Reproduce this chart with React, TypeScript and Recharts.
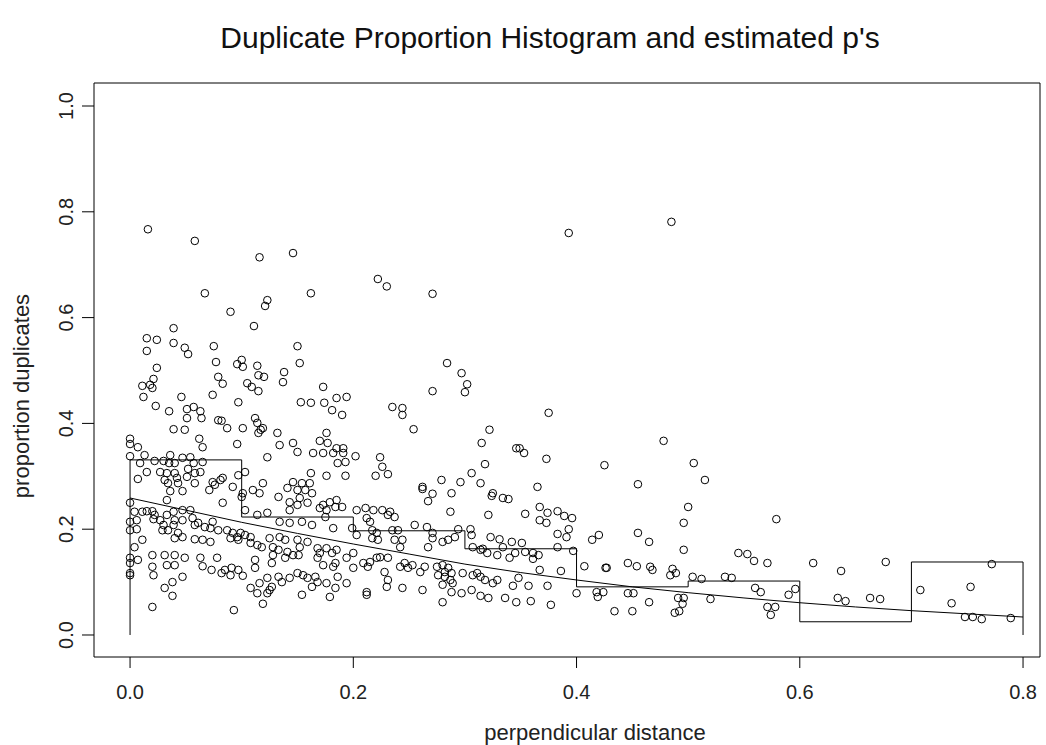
import { ScatterChart, Scatter, XAxis, YAxis, ReferenceArea } from 'recharts';

// histogram of duplicate proportion per 0.1 distance bin
const binEdges = [0, 0.1, 0.2, 0.3, 0.4, 0.5, 0.6, 0.7, 0.8];
const binProportion = [0.331, 0.223, 0.197, 0.163, 0.091, 0.102, 0.025, 0.138];

// estimated p curve, read every 0.05
const curveX = [0, 0.05, 0.1, 0.15, 0.2, 0.25, 0.3, 0.35, 0.4, 0.45, 0.5, 0.55, 0.6, 0.65, 0.7, 0.75, 0.8];
const curveP = [0.259, 0.236, 0.213, 0.192, 0.172, 0.153, 0.134, 0.118, 0.104, 0.091, 0.08, 0.07, 0.061, 0.053, 0.046, 0.04, 0.034];

const xTicks = [0, 0.2, 0.4, 0.6, 0.8];
const yTicks = [0, 0.2, 0.4, 0.6, 0.8, 1.0];

// observed proportions: [distance, proportion]
const pointsHigh: number[][] = [
  [0.016, 0.767], [0.058, 0.745], [0.116, 0.714], [0.146, 0.722], [0.393, 0.76], [0.485, 0.781],
  [0.222, 0.673], [0.23, 0.659], [0.271, 0.645], [0.067, 0.646], [0.039, 0.58], [0.015, 0.561],
  [0.024, 0.558], [0.015, 0.537], [0.039, 0.552], [0.049, 0.543], [0.052, 0.531], [0.075, 0.546],
  [0.077, 0.516], [0.024, 0.505], [0.021, 0.484], [0.011, 0.471], [0.018, 0.473], [0.02, 0.467],
  [0.079, 0.488], [0.083, 0.475], [0.012, 0.45], [0.046, 0.45], [0.074, 0.454], [0.023, 0.433],
  [0.035, 0.423], [0.051, 0.427], [0.057, 0.431], [0.063, 0.423], [0.051, 0.41], [0.064, 0.41],
  [0.079, 0.406], [0.082, 0.405], [0.039, 0.389], [0.049, 0.388], [0.0, 0.371], [0.0, 0.361],
  [0.007, 0.355], [0.062, 0.371], [0.065, 0.355],
  [0.162, 0.646], [0.123, 0.633], [0.121, 0.622], [0.09, 0.611], [0.111, 0.584], [0.15, 0.546],
  [0.152, 0.514], [0.1, 0.52], [0.096, 0.512], [0.101, 0.507], [0.114, 0.509], [0.115, 0.491],
  [0.12, 0.488], [0.138, 0.497], [0.137, 0.478], [0.105, 0.476], [0.109, 0.469], [0.115, 0.461],
  [0.097, 0.44], [0.173, 0.469], [0.153, 0.44], [0.162, 0.439], [0.174, 0.439], [0.185, 0.448],
  [0.194, 0.45], [0.181, 0.425], [0.19, 0.416], [0.087, 0.391], [0.101, 0.391], [0.112, 0.41],
  [0.114, 0.401], [0.119, 0.391], [0.115, 0.382], [0.117, 0.388], [0.132, 0.382], [0.176, 0.382],
  [0.17, 0.367], [0.177, 0.363], [0.096, 0.361], [0.134, 0.359], [0.146, 0.363], [0.185, 0.353],
  [0.191, 0.353],
  [0.284, 0.514], [0.297, 0.495], [0.302, 0.474], [0.3, 0.459], [0.271, 0.461], [0.235, 0.431],
  [0.244, 0.429], [0.244, 0.416], [0.254, 0.389], [0.315, 0.363], [0.224, 0.336],
  [0.375, 0.42], [0.322, 0.388], [0.346, 0.353], [0.349, 0.353], [0.353, 0.344], [0.373, 0.333],
  [0.318, 0.323], [0.425, 0.321], [0.478, 0.367], [0.505, 0.325],
];

const pointsNear: number[][] = [
  [0.0, 0.338], [0.013, 0.34], [0.009, 0.325], [0.022, 0.329], [0.03, 0.329], [0.036, 0.34],
  [0.035, 0.325], [0.04, 0.325], [0.047, 0.335], [0.054, 0.336], [0.057, 0.325], [0.065, 0.327],
  [0.015, 0.308], [0.027, 0.308], [0.033, 0.306], [0.04, 0.306], [0.052, 0.314], [0.058, 0.306],
  [0.063, 0.308], [0.007, 0.295], [0.031, 0.293], [0.034, 0.287], [0.042, 0.297], [0.043, 0.287],
  [0.051, 0.299], [0.058, 0.287], [0.074, 0.289], [0.081, 0.293], [0.083, 0.297], [0.036, 0.272],
  [0.047, 0.272], [0.071, 0.274], [0.076, 0.284], [0.033, 0.255], [0.0, 0.25], [0.083, 0.25],
  [0.004, 0.233], [0.011, 0.233], [0.015, 0.234], [0.02, 0.234], [0.022, 0.227], [0.006, 0.217],
  [0.0, 0.214], [0.0, 0.198], [0.006, 0.2], [0.021, 0.219], [0.027, 0.217], [0.03, 0.208],
  [0.033, 0.227], [0.039, 0.233], [0.04, 0.217], [0.039, 0.208], [0.047, 0.236], [0.047, 0.217],
  [0.054, 0.236], [0.056, 0.221], [0.058, 0.208], [0.061, 0.212], [0.067, 0.204], [0.072, 0.202],
  [0.074, 0.214], [0.079, 0.198], [0.029, 0.198], [0.034, 0.198], [0.043, 0.193], [0.04, 0.183],
  [0.047, 0.185], [0.058, 0.181], [0.065, 0.18], [0.072, 0.176], [0.011, 0.18], [0.004, 0.166],
  [0.0, 0.146], [0.0, 0.136], [0.007, 0.142], [0.02, 0.151], [0.02, 0.129], [0.021, 0.113],
  [0.031, 0.151], [0.033, 0.132], [0.04, 0.151], [0.04, 0.132], [0.047, 0.11], [0.049, 0.146],
  [0.063, 0.146], [0.065, 0.13], [0.073, 0.123], [0.078, 0.146], [0.082, 0.117], [0.0, 0.113],
  [0.0, 0.117], [0.038, 0.1], [0.031, 0.089], [0.038, 0.074], [0.02, 0.053],
];

const pointsMid: number[][] = [
  [0.15, 0.346], [0.173, 0.344], [0.182, 0.344], [0.191, 0.344], [0.186, 0.325], [0.193, 0.327],
  [0.123, 0.336], [0.164, 0.344], [0.162, 0.306], [0.176, 0.301], [0.193, 0.301], [0.097, 0.302],
  [0.103, 0.308], [0.092, 0.28], [0.101, 0.268], [0.1, 0.261], [0.11, 0.274], [0.119, 0.287],
  [0.116, 0.268], [0.133, 0.261], [0.141, 0.278], [0.146, 0.289], [0.15, 0.274], [0.154, 0.287],
  [0.157, 0.274], [0.161, 0.287], [0.163, 0.268], [0.152, 0.259], [0.143, 0.251], [0.15, 0.246],
  [0.159, 0.25], [0.143, 0.236], [0.103, 0.236], [0.114, 0.227], [0.123, 0.231], [0.173, 0.246],
  [0.179, 0.251], [0.185, 0.255], [0.184, 0.242], [0.19, 0.242], [0.176, 0.236], [0.17, 0.24],
  [0.134, 0.214], [0.143, 0.212], [0.154, 0.214], [0.163, 0.208], [0.182, 0.202], [0.175, 0.223],
  [0.087, 0.198], [0.092, 0.193], [0.096, 0.185], [0.099, 0.193], [0.103, 0.189], [0.108, 0.185],
  [0.09, 0.183], [0.097, 0.18], [0.108, 0.174], [0.114, 0.17], [0.118, 0.166], [0.125, 0.183],
  [0.128, 0.166], [0.134, 0.185], [0.139, 0.18], [0.133, 0.161], [0.141, 0.157], [0.15, 0.18],
  [0.152, 0.166], [0.146, 0.151], [0.159, 0.176], [0.151, 0.151], [0.168, 0.164], [0.17, 0.155],
  [0.176, 0.164], [0.181, 0.155], [0.185, 0.161], [0.184, 0.136], [0.168, 0.146], [0.173, 0.132],
  [0.194, 0.146], [0.182, 0.129], [0.112, 0.142], [0.112, 0.127], [0.128, 0.151], [0.127, 0.136],
  [0.139, 0.146], [0.085, 0.123], [0.09, 0.113], [0.097, 0.123], [0.101, 0.112], [0.091, 0.127],
  [0.116, 0.098], [0.123, 0.108], [0.127, 0.091], [0.133, 0.11], [0.136, 0.1], [0.143, 0.108],
  [0.15, 0.117], [0.155, 0.113], [0.159, 0.108], [0.166, 0.11], [0.163, 0.091], [0.168, 0.1],
  [0.176, 0.098], [0.186, 0.11], [0.194, 0.098], [0.108, 0.089], [0.114, 0.079], [0.123, 0.079],
  [0.125, 0.085], [0.154, 0.076], [0.179, 0.072], [0.184, 0.089], [0.119, 0.059], [0.093, 0.047],
];

const pointsOuter: number[][] = [
  [0.226, 0.318], [0.22, 0.301], [0.231, 0.304], [0.202, 0.338], [0.262, 0.28], [0.262, 0.276],
  [0.271, 0.267], [0.267, 0.253], [0.279, 0.293], [0.296, 0.289], [0.306, 0.306], [0.314, 0.287],
  [0.288, 0.268], [0.287, 0.233], [0.203, 0.236], [0.211, 0.24], [0.218, 0.236], [0.226, 0.236],
  [0.233, 0.233], [0.237, 0.223], [0.231, 0.227], [0.212, 0.221], [0.215, 0.214], [0.199, 0.202],
  [0.203, 0.189], [0.217, 0.198], [0.221, 0.193], [0.217, 0.183], [0.222, 0.18], [0.235, 0.198],
  [0.24, 0.198], [0.237, 0.18], [0.244, 0.18], [0.242, 0.166], [0.255, 0.208], [0.266, 0.204],
  [0.271, 0.193], [0.271, 0.183], [0.267, 0.166], [0.28, 0.176], [0.285, 0.18], [0.291, 0.185],
  [0.294, 0.2], [0.305, 0.2], [0.306, 0.189], [0.307, 0.166], [0.314, 0.161], [0.2, 0.155],
  [0.2, 0.127], [0.209, 0.136], [0.215, 0.138], [0.221, 0.146], [0.224, 0.147], [0.231, 0.146],
  [0.213, 0.129], [0.228, 0.119], [0.231, 0.104], [0.23, 0.091], [0.242, 0.129], [0.246, 0.136],
  [0.253, 0.132], [0.249, 0.127], [0.264, 0.129], [0.26, 0.119], [0.275, 0.129], [0.28, 0.132],
  [0.282, 0.119], [0.285, 0.127], [0.288, 0.117], [0.276, 0.113], [0.282, 0.11], [0.287, 0.104],
  [0.289, 0.098], [0.28, 0.095], [0.288, 0.081], [0.298, 0.117], [0.307, 0.113], [0.311, 0.117],
  [0.314, 0.11], [0.306, 0.085], [0.297, 0.079], [0.262, 0.085], [0.244, 0.089], [0.212, 0.081],
  [0.212, 0.076], [0.28, 0.062],
];

const pointsFar: number[][] = [
  [0.365, 0.28], [0.325, 0.268], [0.324, 0.263], [0.334, 0.259], [0.339, 0.257], [0.367, 0.242],
  [0.374, 0.231], [0.367, 0.217], [0.373, 0.212], [0.383, 0.234], [0.389, 0.225], [0.396, 0.221],
  [0.393, 0.2], [0.383, 0.191], [0.391, 0.185], [0.321, 0.227], [0.354, 0.229], [0.414, 0.18],
  [0.42, 0.189], [0.323, 0.185], [0.331, 0.181], [0.342, 0.176], [0.351, 0.174], [0.334, 0.166],
  [0.383, 0.166], [0.397, 0.159], [0.316, 0.163], [0.32, 0.155], [0.329, 0.151], [0.34, 0.146],
  [0.345, 0.155], [0.354, 0.157], [0.361, 0.155], [0.366, 0.151], [0.361, 0.144], [0.367, 0.123],
  [0.386, 0.121], [0.407, 0.13], [0.426, 0.127], [0.427, 0.127], [0.446, 0.136], [0.454, 0.13],
  [0.318, 0.104], [0.325, 0.098], [0.329, 0.104], [0.348, 0.108], [0.343, 0.093], [0.357, 0.093],
  [0.374, 0.093], [0.314, 0.074], [0.321, 0.07], [0.336, 0.07], [0.346, 0.062], [0.359, 0.064],
  [0.377, 0.057], [0.4, 0.079], [0.418, 0.081], [0.424, 0.081], [0.419, 0.072], [0.446, 0.079],
  [0.451, 0.079], [0.434, 0.045], [0.45, 0.045], [0.455, 0.285], [0.455, 0.193],
  [0.515, 0.293], [0.5, 0.242], [0.496, 0.212], [0.579, 0.219], [0.465, 0.176], [0.496, 0.161],
  [0.545, 0.155], [0.553, 0.153], [0.559, 0.14], [0.571, 0.136], [0.612, 0.136], [0.466, 0.129],
  [0.468, 0.123], [0.486, 0.125], [0.489, 0.117], [0.484, 0.113], [0.504, 0.11], [0.512, 0.106],
  [0.533, 0.11], [0.539, 0.108], [0.56, 0.089], [0.565, 0.081], [0.59, 0.076], [0.596, 0.087],
  [0.465, 0.062], [0.491, 0.07], [0.496, 0.07], [0.495, 0.059], [0.52, 0.068], [0.488, 0.042],
  [0.492, 0.045], [0.571, 0.053], [0.578, 0.053], [0.574, 0.038],
  [0.637, 0.121], [0.677, 0.138], [0.634, 0.07], [0.641, 0.064], [0.663, 0.07], [0.672, 0.068],
  [0.708, 0.085], [0.772, 0.134], [0.753, 0.091], [0.736, 0.06], [0.748, 0.034], [0.755, 0.034],
  [0.763, 0.03], [0.789, 0.032],
];

const X_DOMAIN: [number, number] = [-0.0323, 0.8152];
const Y_DOMAIN: [number, number] = [-0.0416, 1.0435];
const FONT = '"Liberation Sans", Arial, sans-serif';

const points = [...pointsHigh, ...pointsNear, ...pointsMid, ...pointsOuter, ...pointsFar].map(([x, y]) => ({ x, y }));

// step outline: up from 0 at the first edge, across each bin, down to 0 at the last edge
const histData = [{ x: binEdges[0], y: 0 }];
binProportion.forEach((p, i) => {
  histData.push({ x: binEdges[i], y: p });
  histData.push({ x: binEdges[i + 1], y: p });
});
histData.push({ x: binEdges[binEdges.length - 1], y: 0 });

const curveData = curveX.map((x, i) => ({ x, y: curveP[i] }));

const OpenCircle = (props: any) => (
  <circle cx={props.cx} cy={props.cy} r={3.8} fill="none" stroke="#000" strokeWidth={1} />
);
const NoDot = () => <g />;

const XTick = (props: any) => (
  <text x={props.x} y={props.y} textAnchor="middle" dominantBaseline="central" fontSize={20} fontFamily={FONT} fill="#222">
    {Number(props.payload.value).toFixed(1)}
  </text>
);

const YTick = (props: any) => (
  <text
    x={props.x}
    y={props.y}
    textAnchor="middle"
    dominantBaseline="central"
    fontSize={20}
    fontFamily={FONT}
    fill="#222"
    transform={`rotate(-90, ${props.x}, ${props.y})`}
  >
    {Number(props.payload.value).toFixed(1)}
  </text>
);

export default function App() {
  return (
    <div style={{ position: 'absolute', left: 0, top: 0, width: 1046, height: 745, background: '#fff', fontFamily: FONT }}>
      <div style={{ position: 'absolute', left: 0, top: 21, width: 1100, textAlign: 'center', fontSize: 30, color: '#111', whiteSpace: 'nowrap' }}>
        Duplicate Proportion Histogram and estimated p's
      </div>
      <div style={{ position: 'absolute', left: 0, top: 720, width: 1190, textAlign: 'center', fontSize: 22, color: '#222', whiteSpace: 'nowrap' }}>
        perpendicular distance
      </div>
      <div
        style={{
          position: 'absolute',
          left: 22 - 150,
          top: 396 - 14,
          width: 300,
          textAlign: 'center',
          fontSize: 22,
          lineHeight: '28px',
          color: '#222',
          whiteSpace: 'nowrap',
          transform: 'rotate(-90deg)',
        }}
      >
        proportion duplicates
      </div>
      <ScatterChart width={1046} height={745} margin={{ top: 83, right: 6, bottom: 0, left: 0 }}>
        <XAxis
          type="number"
          dataKey="x"
          domain={X_DOMAIN}
          ticks={xTicks}
          allowDataOverflow
          axisLine={false}
          tickLine={{ stroke: '#000' }}
          tickSize={11}
          tickMargin={24}
          height={88}
          tick={<XTick />}
        />
        <YAxis
          type="number"
          dataKey="y"
          domain={Y_DOMAIN}
          ticks={yTicks}
          allowDataOverflow
          axisLine={false}
          tickLine={{ stroke: '#000' }}
          tickSize={12}
          tickMargin={16}
          width={94}
          tick={<YTick />}
        />
        <ReferenceArea
          x1={X_DOMAIN[0]}
          x2={X_DOMAIN[1]}
          y1={Y_DOMAIN[0]}
          y2={Y_DOMAIN[1]}
          fill="none"
          stroke="#000"
          strokeWidth={1}
          ifOverflow="visible"
        />
        <Scatter data={points} shape={<OpenCircle />} isAnimationActive={false} />
        <Scatter data={histData} shape={<NoDot />} line={{ stroke: '#000', strokeWidth: 1 }} isAnimationActive={false} />
        <Scatter data={curveData} shape={<NoDot />} line={{ stroke: '#000', strokeWidth: 1 }} isAnimationActive={false} />
      </ScatterChart>
    </div>
  );
}
